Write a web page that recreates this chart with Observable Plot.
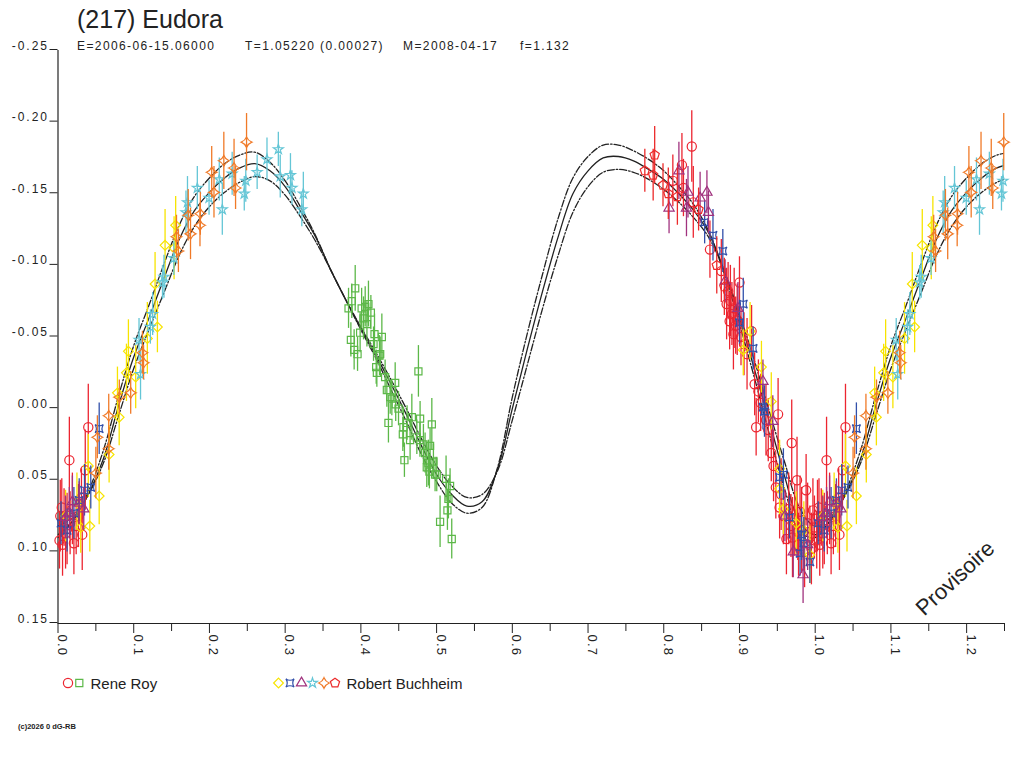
<!DOCTYPE html>
<html>
<head>
<meta charset="utf-8">
<script src="https://cdn.jsdelivr.net/npm/d3@7"></script>
<script src="https://cdn.jsdelivr.net/npm/@observablehq/plot@0.6"></script>
<style>
  html, body { margin: 0; padding: 0; background: #fff; }
  #wrap { position: relative; width: 1024px; height: 768px; overflow: hidden; font-family: "Liberation Sans", Arial, sans-serif; }
  #wrap svg { position: absolute; left: 0; top: 0; }
  [aria-label="y-axis tick label"] text { letter-spacing: 2px; }
  [aria-label="x-axis tick label"] text { letter-spacing: 1.2px; }
</style>
</head>
<body>
<div id="wrap"></div>
<script>
// ---------- DATA ----------
const yTicks = [-0.25, -0.20, -0.15, -0.10, -0.05, 0.00, 0.05, 0.10, 0.15];
const xMajorTicks = [0, 0.1, 0.2, 0.3, 0.4, 0.5, 0.6, 0.7, 0.8, 0.9, 1.0, 1.1, 1.2];
const xMinorTicks = [0.05, 0.15, 0.25, 0.35, 0.45, 0.55, 0.65, 0.75, 0.85, 0.95, 1.05, 1.15, 1.25];

// Fitted light curve (phase 0..0.98) and its two dashed envelopes
const curvePhase = [0.00,0.02,0.04,0.06,0.08,0.10,0.12,0.14,0.16,0.18,0.20,0.22,0.24,0.26,0.28,0.30,0.32,0.34,0.36,0.38,0.40,0.42,0.44,0.46,0.48,0.50,0.52,0.54,0.56,0.58,0.60,0.62,0.64,0.66,0.68,0.70,0.72,0.74,0.76,0.78,0.80,0.82,0.84,0.86,0.88,0.90,0.92,0.94,0.96,0.98];
const curveMid = [0.088,0.078,0.060,0.035,-0.002,-0.036,-0.063,-0.091,-0.118,-0.138,-0.151,-0.161,-0.168,-0.171,-0.166,-0.155,-0.138,-0.120,-0.097,-0.076,-0.056,-0.037,-0.017,0.004,0.026,0.046,0.060,0.068,0.065,0.043,0.000,-0.042,-0.082,-0.119,-0.150,-0.166,-0.175,-0.176,-0.173,-0.167,-0.160,-0.150,-0.138,-0.122,-0.096,-0.063,-0.027,0.010,0.048,0.080];
const curveOuter = [0.090,0.078,0.058,0.029,-0.009,-0.044,-0.072,-0.101,-0.128,-0.148,-0.161,-0.171,-0.177,-0.179,-0.172,-0.159,-0.141,-0.121,-0.097,-0.076,-0.055,-0.035,-0.013,0.009,0.032,0.051,0.066,0.073,0.069,0.042,-0.008,-0.053,-0.094,-0.132,-0.161,-0.176,-0.184,-0.184,-0.180,-0.174,-0.166,-0.155,-0.142,-0.123,-0.094,-0.059,-0.021,0.019,0.057,0.086];
const curveInner = [0.082,0.076,0.060,0.038,0.005,-0.028,-0.055,-0.081,-0.107,-0.127,-0.141,-0.151,-0.158,-0.162,-0.159,-0.149,-0.134,-0.117,-0.097,-0.076,-0.057,-0.039,-0.020,0.000,0.021,0.040,0.054,0.062,0.060,0.044,0.008,-0.031,-0.070,-0.106,-0.137,-0.155,-0.165,-0.167,-0.165,-0.160,-0.153,-0.144,-0.133,-0.119,-0.096,-0.066,-0.033,0.003,0.038,0.070];

// Observations: [phase, reduced magnitude, error]
const royCircles = [
  [0.837,-0.183,0.025],[0.824,-0.170,0.022],[0.812,-0.159,0.018],[0.826,-0.154,0.020],[0.839,-0.144,0.025],
  [0.861,-0.111,0.020],[0.876,-0.096,0.022],[0.900,-0.088,0.018],[0.883,-0.073,0.025],[0.887,-0.061,0.020],
  [0.892,-0.052,0.025],[0.916,-0.054,0.018],[0.920,-0.017,0.022],[0.922,0.013,0.020],[0.951,0.004,0.025],
  [0.942,0.031,0.020],[0.969,0.024,0.030],[0.976,0.050,0.030],[0.953,0.069,0.022],[0.962,0.091,0.025],
  [0.977,0.086,0.020],[0.988,0.057,0.025],[0.015,0.036,0.030],[0.040,0.013,0.030],[0.021,0.094,0.022],
  [0.032,0.088,0.025],[0.036,0.043,0.028],[0.008,0.076,0.020],[0.997,0.071,0.022],[0.002,0.092,0.020],
  [0.012,0.084,0.025],[0.005,0.069,0.020],
  [0.885,-0.082,0.020],[0.888,-0.075,0.025],[0.890,-0.066,0.022],[0.893,-0.070,0.028],[0.895,-0.058,0.020],
  [0.897,-0.062,0.025],[0.902,-0.050,0.020],[0.906,-0.045,0.022],[0.910,-0.038,0.025],[0.925,-0.012,0.022],
  [0.928,-0.004,0.020],[0.935,0.008,0.025],[0.938,0.015,0.022],[0.945,0.040,0.025],[0.948,0.055,0.022],
  [0.955,0.060,0.025],[0.958,0.075,0.020],[0.965,0.070,0.025],[0.968,0.082,0.022],[0.970,0.090,0.028],
  [0.973,0.078,0.025],[0.978,0.095,0.022],[0.980,0.072,0.025],[0.982,0.085,0.030],[0.986,0.100,0.025],
  [0.990,0.080,0.028],[0.993,0.090,0.022],[0.995,0.098,0.025],[0.999,0.083,0.022],[0.003,0.075,0.025],
  [0.006,0.095,0.022],[0.010,0.087,0.025],[0.016,0.080,0.022],[0.019,0.070,0.025],[0.024,0.082,0.020],
  [0.027,0.075,0.022],[0.031,0.062,0.020]
];
const roySquares = [
  [0.3925,-0.084,0.016],[0.3837,-0.070,0.014],[0.388,-0.075,0.012],[0.4057,-0.071,0.014],[0.410,-0.073,0.016],
  [0.4132,-0.067,0.012],[0.4035,-0.063,0.015],[0.3868,-0.048,0.012],[0.3911,-0.041,0.014],[0.3956,-0.038,0.012],
  [0.399,-0.053,0.014],[0.4277,-0.050,0.016],[0.4167,-0.045,0.012],[0.4246,-0.037,0.014],[0.4202,-0.029,0.012],
  [0.4211,-0.025,0.010],[0.432,-0.022,0.012],[0.4453,-0.018,0.014],[0.4343,-0.013,0.012],[0.4409,-0.007,0.012],
  [0.476,-0.026,0.018],[0.4497,0.000,0.012],[0.4364,0.010,0.014],[0.4673,0.006,0.016],[0.4782,0.007,0.012],
  [0.4562,0.013,0.014],[0.4937,0.011,0.018],[0.4554,0.018,0.012],[0.465,0.022,0.014],[0.4739,0.020,0.012],
  [0.4826,0.025,0.014],[0.4914,0.026,0.012],[0.4848,0.031,0.014],[0.4575,0.036,0.012],[0.4892,0.038,0.016],
  [0.4958,0.037,0.012],[0.4905,0.044,0.012],[0.5002,0.046,0.012],[0.5125,0.049,0.016],[0.5178,0.054,0.012],
  [0.5156,0.063,0.014],[0.5143,0.071,0.014],[0.5046,0.079,0.018],[0.520,0.091,0.014],[0.4255,-0.038,0.012],
  [0.401,-0.070,0.014],[0.408,-0.059,0.016],[0.4387,-0.008,0.012],[0.478,0.022,0.012],[0.487,0.041,0.014],
  [0.498,0.046,0.012],[0.418,-0.052,0.014],[0.446,-0.003,0.012],[0.461,0.010,0.012]
];
const buchYellow = [
  [0.1554,-0.128,0.020],[0.1414,-0.114,0.025],[0.1533,-0.112,0.022],[0.1282,-0.087,0.022],[0.1313,-0.057,0.018],
  [0.118,-0.049,0.025],[0.093,-0.040,0.022],[0.0904,-0.025,0.020],[0.1026,-0.022,0.022],[0.0785,-0.011,0.018],
  [0.0808,0.006,0.020],[0.0675,0.032,0.020],[0.040,0.040,0.022],[0.0544,0.061,0.020],[0.042,0.082,0.018],
  [0.953,0.042,0.020],[0.953,0.056,0.018],[0.975,0.080,0.022],[0.993,0.102,0.020],[0.905,-0.041,0.018],
  [0.914,-0.054,0.020],[0.929,-0.029,0.018],[0.942,-0.005,0.020],[0.958,0.070,0.018],[0.985,0.085,0.020],
  [0.010,0.075,0.018],[0.025,0.065,0.020],[0.030,0.083,0.018]
];
const buchBlue = [
  [0.0544,0.014,0.018],[0.0433,0.055,0.015],[0.953,0.048,0.015],[0.982,0.088,0.018],[0.993,0.107,0.015],
  [0.004,0.080,0.015],[0.021,0.073,0.018],[0.028,0.064,0.015],[0.035,0.057,0.018],[0.980,0.101,0.016],
  [0.966,0.076,0.015],[0.933,0.002,0.018],[0.854,-0.130,0.015],[0.865,-0.121,0.018],[0.878,-0.110,0.015],
  [0.905,-0.073,0.018],[0.918,-0.042,0.015],[0.931,-0.001,0.016],[0.958,0.046,0.018],[0.900,-0.060,0.015],
  [0.985,0.094,0.018],[0.012,0.085,0.015]
];
const buchPurple = [
  [0.807,-0.140,0.018],[0.820,-0.166,0.020],[0.832,-0.151,0.018],[0.857,-0.151,0.015],[0.848,-0.147,0.018],
  [0.859,-0.137,0.015],[0.830,-0.140,0.020],[0.881,-0.089,0.015],[0.898,-0.070,0.018],[0.931,-0.019,0.015],
  [0.944,0.009,0.018],[0.971,0.100,0.018],[0.984,0.116,0.020],[0.028,0.066,0.015],[0.015,0.073,0.018],
  [0.034,0.070,0.015],[0.019,0.065,0.018],[0.010,0.076,0.015],[0.960,0.075,0.018],[0.990,0.095,0.018]
];
const buchCyan = [
  [0.184,-0.154,0.015],[0.171,-0.144,0.018],[0.169,-0.137,0.015],[0.1995,-0.147,0.012],[0.213,-0.160,0.015],
  [0.217,-0.139,0.018],[0.230,-0.164,0.015],[0.248,-0.159,0.015],[0.246,-0.150,0.012],[0.153,-0.105,0.012],
  [0.140,-0.092,0.015],[0.138,-0.088,0.012],[0.125,-0.066,0.015],[0.122,-0.057,0.012],[0.107,-0.048,0.015],
  [0.109,-0.024,0.018],[0.276,-0.174,0.015],[0.291,-0.181,0.012],[0.263,-0.165,0.012],[0.2935,-0.162,0.015],
  [0.307,-0.163,0.015],[0.309,-0.154,0.012],[0.324,-0.150,0.015],[0.322,-0.139,0.012]
];
const buchOrange = [
  [0.249,-0.186,0.020],[0.219,-0.173,0.020],[0.203,-0.165,0.018],[0.2325,-0.168,0.020],[0.2345,-0.154,0.015],
  [0.206,-0.151,0.018],[0.172,-0.135,0.018],[0.188,-0.136,0.015],[0.1875,-0.128,0.015],[0.175,-0.122,0.018],
  [0.1565,-0.120,0.015],[0.159,-0.110,0.015],[0.1115,-0.039,0.015],[0.113,-0.032,0.012],[0.096,-0.011,0.015],
  [0.081,-0.008,0.012],[0.067,0.005,0.015],[0.067,0.028,0.015],[0.052,0.020,0.015],[0.050,0.045,0.018]
];
const buchRed = [
  [0.775,-0.166,0.015],[0.786,-0.163,0.018],[0.788,-0.177,0.020],[0.799,-0.156,0.015],[0.806,-0.150,0.018],
  [0.818,-0.148,0.020],[0.846,-0.139,0.015],[0.870,-0.100,0.020],[0.880,-0.085,0.020]
];

const observers = ["Rene Roy", "Robert Buchheim"];

// ---------- SYMBOLS ----------
const concaveSquare = { draw(ctx, size) { const r = Math.sqrt(size) * 0.55, k = r * 0.35;
  ctx.moveTo(-r, -r); ctx.quadraticCurveTo(0, -k, r, -r); ctx.quadraticCurveTo(k, 0, r, r);
  ctx.quadraticCurveTo(0, k, -r, r); ctx.quadraticCurveTo(-k, 0, -r, -r); ctx.closePath(); } };
const star4 = { draw(ctx, size) { const r = Math.sqrt(size) * 0.68, k = r * 0.28;
  ctx.moveTo(0, -r); ctx.quadraticCurveTo(k, -k, r, 0); ctx.quadraticCurveTo(k, k, 0, r);
  ctx.quadraticCurveTo(-k, k, -r, 0); ctx.quadraticCurveTo(-k, -k, 0, -r); ctx.closePath(); } };
const pentagon = { draw(ctx, size) { const r = Math.sqrt(size) * 0.62;
  for (let i = 0; i < 5; i++) { const a = -Math.PI / 2 + i * 2 * Math.PI / 5;
    const x = r * Math.cos(a), y = r * Math.sin(a); if (i) ctx.lineTo(x, y); else ctx.moveTo(x, y); }
  ctx.closePath(); } };

const series = [
  {data: roySquares, color: "#5cb848", symbol: "square", r: 4},
  {data: royCircles, color: "#ec2530", symbol: "circle", r: 4.6},
  {data: buchYellow, color: "#f7e400", symbol: "diamond2", r: 4.4},
  {data: buchBlue, color: "#3250aa", symbol: concaveSquare, r: 4.2},
  {data: buchPurple, color: "#a0327e", symbol: "triangle", r: 3.8},
  {data: buchCyan, color: "#64c6d6", symbol: "star", r: 3.1},
  {data: buchOrange, color: "#f07a28", symbol: star4, r: 4.4},
  {data: buchRed, color: "#ec2a2a", symbol: pentagon, r: 4.4}
];

// phases below 0.25 are shown a second time one cycle later
function expand(rows) {
  const out = [];
  for (const [p, m, e] of rows) {
    out.push({x: p, y: m, e});
    if (p <= 0.25) out.push({x: p + 1, y: m, e});
  }
  return out;
}
const curveRows = [];
curvePhase.forEach((p, i) => curveRows.push({x: p, mid: curveMid[i], outer: curveOuter[i], inner: curveInner[i]}));
curvePhase.forEach((p, i) => { if (p <= 0.26) curveRows.push({x: p + 1, mid: curveMid[i], outer: curveOuter[i], inner: curveInner[i]}); });
curveRows.sort((a, b) => a.x - b.x);

const marks = [
  Plot.axisY({ticks: yTicks, tickSize: 8, tickPadding: 1, tickFormat: d => d.toFixed(2), lineAnchor: "bottom", dy: -1, fontSize: 12, label: null}),
  Plot.axisX({ticks: xMajorTicks, tickSize: 10, tickPadding: 1, tickRotate: 90, lineAnchor: "bottom", textAnchor: "start", tickFormat: d => d.toFixed(1), fontSize: 13, label: null}),
  Plot.axisX({ticks: xMinorTicks, tickSize: 8, tickFormat: () => "", label: null}),
  Plot.ruleX([0], {stroke: "#222", strokeWidth: 1.2}),
  Plot.ruleY([0.15], {stroke: "#222", strokeWidth: 1.2}),
  Plot.line(curveRows, {x: "x", y: "outer", curve: "catmull-rom", stroke: "#222", strokeWidth: 1.3, strokeDasharray: "7,2,1.5,2", clip: true}),
  Plot.line(curveRows, {x: "x", y: "inner", curve: "catmull-rom", stroke: "#222", strokeWidth: 1.3, strokeDasharray: "7,2,1.5,2", clip: true}),
  Plot.line(curveRows, {x: "x", y: "mid", curve: "catmull-rom", stroke: "#222", strokeWidth: 1.3, clip: true})
];
for (const s of series) {
  const rows = expand(s.data);
  marks.push(Plot.ruleX(rows, {x: "x", y1: d => d.y - d.e, y2: d => d.y + d.e, stroke: s.color, strokeWidth: 1.3}));
  marks.push(Plot.dot(rows, {x: "x", y: "y", symbol: s.symbol, r: s.r, stroke: s.color, fill: "none", strokeWidth: 1.2}));
}

const chart = Plot.plot({
  width: 1024, height: 768,
  marginLeft: 57.5, marginRight: 20, marginTop: 50, marginBottom: 145,
  x: {domain: [0, 1.25]},
  y: {domain: [-0.25, 0.15], reverse: true},
  style: {fontFamily: "'Liberation Sans', Arial, sans-serif", background: "white", color: "#222", overflow: "visible"},
  marks
});
const wrap = document.getElementById("wrap");
wrap.appendChild(chart);

// ---------- overlay texts (title, subtitle, legend, notes) ----------
const ov = d3.select(wrap).append("svg").attr("width", 1024).attr("height", 768)
  .style("pointer-events", "none").attr("font-family", "'Liberation Sans', Arial, sans-serif").attr("fill", "#222");
ov.append("text").attr("x", 77).attr("y", 28).attr("font-size", 25).text("(217) Eudora");
const sub = [["E=2006-06-15.06000", 77], ["T=1.05220 (0.00027)", 245], ["M=2008-04-17", 403], ["f=1.132", 520]];
for (const [t, x] of sub) ov.append("text").attr("x", x).attr("y", 50).attr("font-size", 12).attr("letter-spacing", "1.4px").text(t);

const legendSyms = [
  [["circle", "#ec2530", 4.6, 68], ["square", "#5cb848", 4, 79.3]],
  [["diamond2", "#f7e400", 4.4, 278.5], [concaveSquare, "#3250aa", 4.2, 290], ["triangle", "#a0327e", 3.8, 301.5],
   ["star", "#64c6d6", 3.1, 312.5], [star4, "#f07a28", 4.4, 324], [pentagon, "#ec2a2a", 4.4, 335]]
];
const symMap = {circle: d3.symbolCircle, square: d3.symbolSquare, diamond2: d3.symbolDiamond2, triangle: d3.symbolTriangle, star: d3.symbolStar};
const legendTextX = [90.5, 346.5];
legendSyms.forEach((group, gi) => {
  for (const [sym, color, r, cx] of group) {
    const type = typeof sym === "string" ? symMap[sym] : sym;
    ov.append("path").attr("d", d3.symbol(type, Math.PI * r * r)()).attr("transform", `translate(${cx},683)`)
      .attr("fill", "none").attr("stroke", color).attr("stroke-width", 1.2);
  }
  ov.append("text").attr("x", legendTextX[gi]).attr("y", 689).attr("font-size", 15).text(observers[gi]);
});
ov.append("text").attr("x", 18).attr("y", 729).attr("font-size", 7.5).attr("font-weight", "bold").text("(c)2026 0 dG-RB");
ov.append("text").attr("transform", "translate(955,578) rotate(-43)").attr("text-anchor", "middle")
  .attr("dominant-baseline", "central").attr("font-size", 22).text("Provisoire");
</script>
</body>
</html>
